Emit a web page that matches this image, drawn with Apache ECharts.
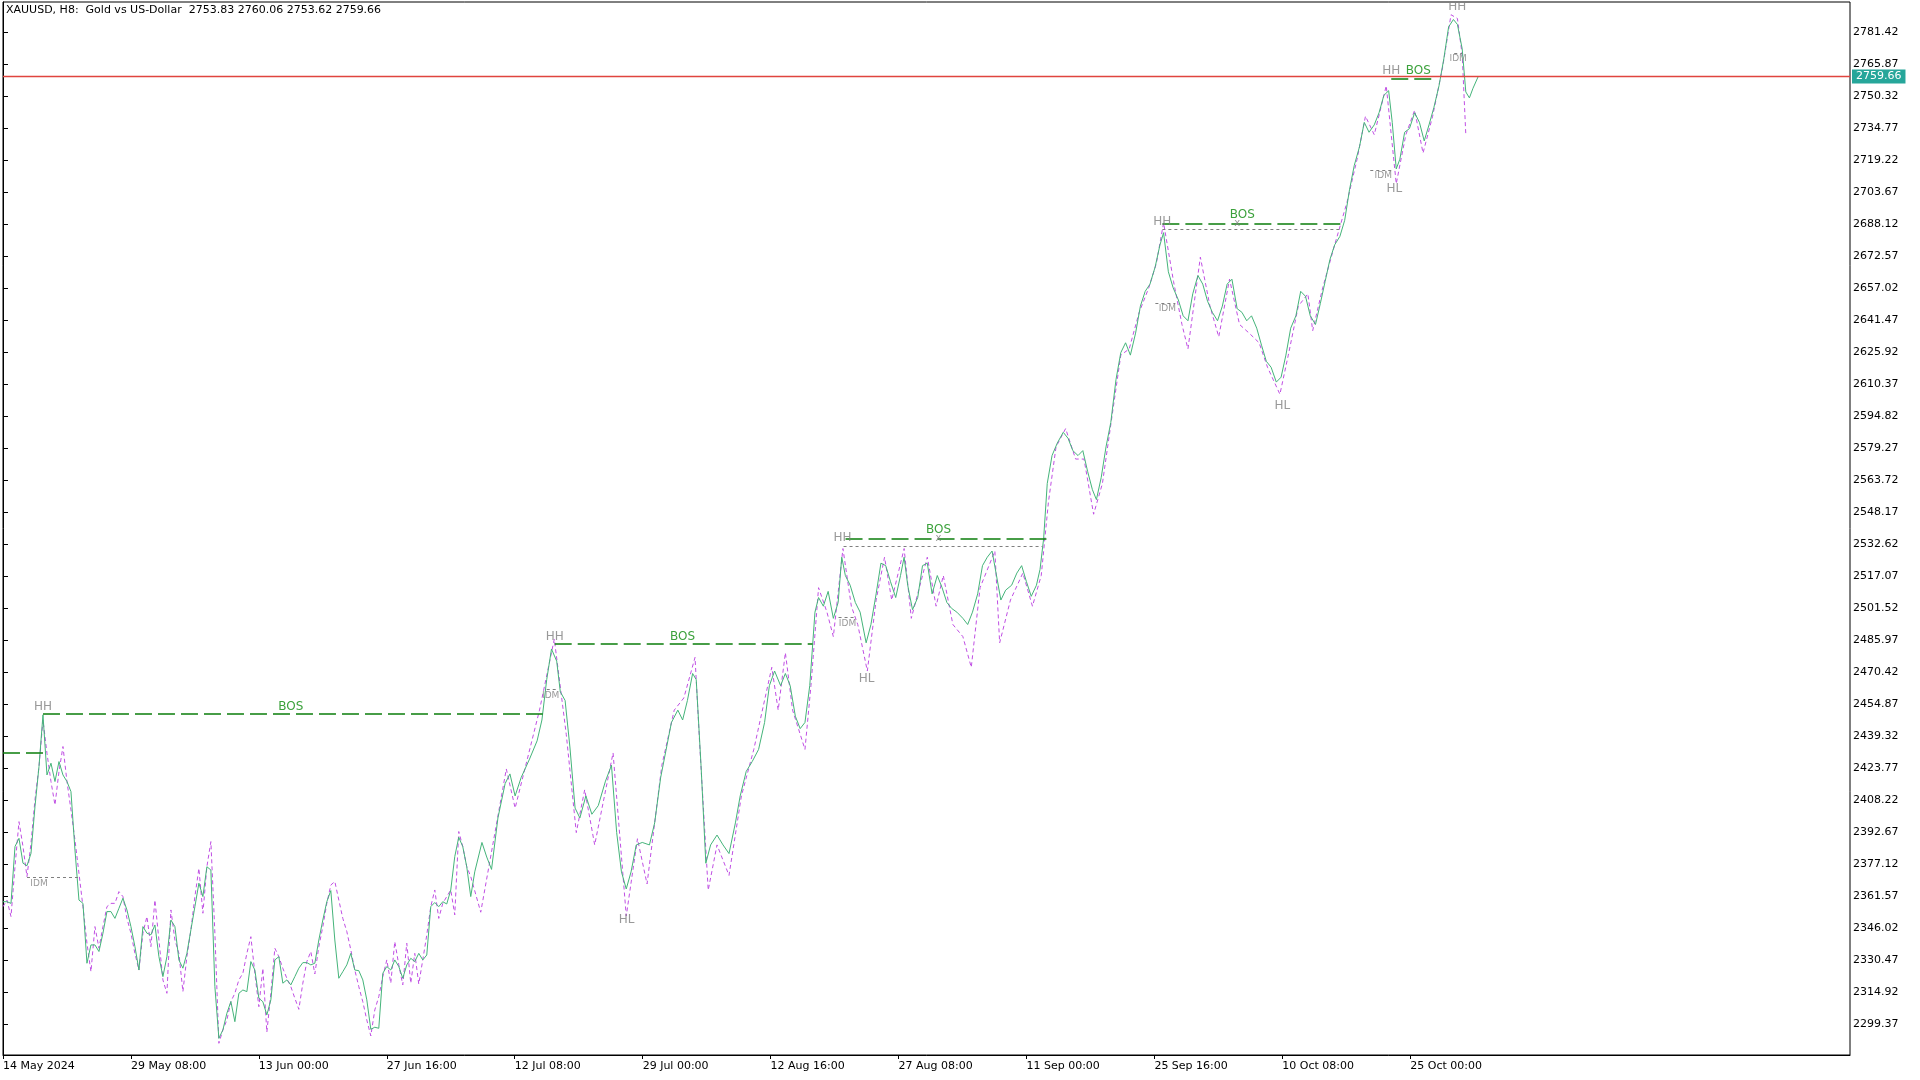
<!DOCTYPE html>
<html><head><meta charset="utf-8">
<script src="https://cdn.jsdelivr.net/npm/echarts@6/dist/echarts.min.js"></script>
<style>html,body{margin:0;padding:0;background:#fff;}#c{width:1920px;height:1080px;}</style>
</head><body><div id="c"></div>
<script>
const titleText = 'XAUUSD, H8:  Gold vs US-Dollar  2753.83 2760.06 2753.62 2759.66';
const lastPrice = 2759.66;
const yTicks = [2299.37,2314.92,2330.47,2346.02,2361.57,2377.12,2392.67,2408.22,2423.77,2439.32,2454.87,2470.42,2485.97,2501.52,2517.07,2532.62,2548.17,2563.72,2579.27,2594.82,2610.37,2625.92,2641.47,2657.02,2672.57,2688.12,2703.67,2719.22,2734.77,2750.32,2765.87,2781.42];
const xTickBars = [0,32,64,96,128,160,192,224,256,288,320,352];
const xTickLabels = ['14 May 2024','29 May 08:00','13 Jun 00:00','27 Jun 16:00','12 Jul 08:00','29 Jul 00:00','12 Aug 16:00','27 Aug 08:00','11 Sep 00:00','25 Sep 16:00','10 Oct 08:00','25 Oct 00:00'];
// [bar, close]
const closeLine = [
[0,2358.7],[1,2358.7],[2,2357.9],[3,2385.5],[4,2389.5],[5,2377.4],[6,2376.2],[7,2382.2],[8,2404.9],[9,2424.3],
[10,2449.5],[11,2420.3],[12,2426.0],[13,2417.1],[14,2426.8],[15,2420.3],[16,2417.1],[17,2412.2],[18,2383.8],[19,2359.5],
[20,2357.9],[21,2328.8],[22,2337.7],[23,2337.7],[24,2334.5],[25,2343.4],[26,2353.9],[27,2353.9],[28,2350.6],[29,2355.5],
[30,2360.4],[31,2354.7],[32,2346.6],[33,2336.9],[34,2325.5],[35,2346.6],[36,2343.4],[37,2342.6],[38,2347.4],[39,2332.0],
[40,2322.3],[41,2332.0],[42,2349.8],[43,2346.6],[44,2330.4],[45,2326.4],[46,2333.6],[47,2345.0],[48,2356.3],[49,2367.7],
[50,2361.2],[51,2375.7],[52,2374.1],[53,2317.4],[54,2292.3],[55,2296.4],[56,2304.5],[57,2310.2],[58,2300.4],[59,2314.2],
[60,2315.8],[61,2315.0],[62,2329.6],[63,2325.5],[64,2311.8],[65,2310.1],[66,2303.7],[67,2311.0],[68,2330.4],[69,2332.0],
[70,2319.1],[71,2320.7],[72,2318.3],[73,2322.3],[74,2326.4],[75,2329.1],[76,2329.1],[77,2328.0],[78,2328.8],[79,2340.1],
[80,2349.8],[81,2358.7],[82,2364.1],[83,2340.1],[84,2321.5],[85,2324.7],[86,2328.0],[87,2333.6],[88,2325.5],[89,2325.2],
[90,2320.7],[91,2311.0],[92,2296.7],[93,2297.7],[94,2297.2],[95,2323.9],[96,2327.2],[97,2325.5],[98,2330.4],[99,2327.2],
[100,2321.5],[101,2328.0],[102,2331.2],[103,2329.6],[104,2333.6],[105,2330.4],[106,2332.8],[107,2356.3],[108,2358.3],[109,2356.3],
[110,2358.7],[111,2357.6],[112,2364.4],[113,2380.6],[114,2390.0],[115,2385.5],[116,2375.7],[117,2361.2],
[118.0,2373.2],[119.8,2387.5],[121.0,2380.4],[122.2,2374.4],[123.8,2399.4],[125.6,2416.1],[126.8,2420.8],[128.1,2410.1],
[129.6,2419.0],[131.7,2428.0],[133.6,2436.9],[134.8,2447.0],[136.0,2466.6],[137.2,2481.5],[138.5,2475.6],[139.4,2460.7],
[140.6,2456.5],[141.8,2433.9],[143.1,2404.2],[144.3,2399.4],[145.8,2410.1],[147.3,2401.2],[148.9,2405.4],[150.7,2417.3],
[152.2,2425.0],[153.5,2392.3],[154.7,2373.2],[155.9,2364.9],[157.1,2373.2],[158.4,2386.3],[159.9,2387.5],[161.7,2386.3],
[163.0,2397.0],[164.5,2419.0],[166.0,2433.9],[167.2,2445.8],[168.8,2451.8],[170.0,2447.0],[171.2,2456.5],[172.5,2469.6],
[173.4,2466.6],[174.6,2425.0],[175.8,2377.4],[177.0,2386.3],[178.6,2391.1],[180.1,2386.3],[181.6,2382.1],[183.2,2397.0],
[184.4,2410.1],[185.9,2422.0],[187.4,2426.8],[189.0,2432.7],[190.5,2445.8],[191.7,2463.7],[193.0,2470.8],[194.5,2463.7],
[195.7,2469.6],[196.9,2463.7],[198.2,2448.8],[199.4,2442.8],[200.6,2445.8],[201.8,2463.7],[203.1,2499.4],[204.0,2506.5],
[205.2,2502.3],[206.4,2509.5],[207.7,2496.4],[208.9,2504.1],[209.8,2526.1],[210.7,2517.2],[211.9,2512.5],[213.2,2504.1],
[214.4,2499.4],[215.9,2484.5],[217.1,2493.4],[218.4,2508.3],[219.6,2523.2],[220.8,2522.0],[222.0,2514.2],[223.3,2506.5],
[224.5,2517.2],[225.4,2526.1],[226.3,2512.5],[227.5,2500.6],[228.8,2506.5],[230.0,2522.0],[231.2,2523.2],[232.4,2508.3],
[233.7,2517.2],[234.9,2511.3],[236.1,2504.1],[237.3,2501.2],[238.6,2499.4],[240.1,2496.4],[241.3,2493.4],[242.5,2499.4],
[243.8,2508.3],[245.0,2522.0],[246.2,2526.1],[247.4,2529.1],[248.4,2518.4],[249.6,2505.3],[250.8,2510.1],[252.3,2512.5],
[253.6,2518.4],[254.8,2522.0],[256.0,2514.2],[257.2,2507.1],[258.5,2512.5],[259.4,2520.2],[260.3,2535.1],[261.2,2561.9],
[262.4,2575.5],[263.7,2581.5],[265.2,2586.8],[266.4,2583.9],[267.6,2577.9],[268.9,2575.5],[270.1,2577.9],[271.3,2567.8],
[272.5,2558.9],[273.5,2554.1],[274.7,2564.8],[275.9,2579.7],[277.1,2591.6],[278.4,2612.4],[279.6,2625.5],[280.8,2630.3],
[282.0,2624.3],[283.3,2635.0],[284.5,2648.1],[285.7,2655.3],[286.9,2658.8],[288.2,2667.2],[289.4,2677.9],[290.3,2683.8],
[291.5,2664.8],[292.7,2657.0],[294.0,2651.1],[295.2,2643.4],[296.4,2641.0],[297.6,2654.1],[298.9,2663.0],[300.1,2658.8],
[301.3,2650.5],[302.5,2645.1],[303.8,2641.0],[305.0,2648.1],[306.2,2658.8],[307.4,2661.2],[308.7,2646.9],[309.9,2645.1],
[311.1,2641.0],[312.3,2643.4],[313.6,2637.4],[314.8,2629.1],[316.0,2621.3],[317.2,2618.4],[318.5,2611.2],[319.7,2613.6],
[320.9,2624.3],[322.1,2637.4],[323.4,2643.4],[324.6,2655.3],[325.8,2652.9],[327.0,2643.4],[328.3,2639.2],[329.5,2649.3],
[330.7,2660.0],[331.9,2670.7],[333.1,2677.9],[334.4,2682.0],[335.6,2689.8],[336.8,2704.6],[338.0,2716.5],[339.3,2725.5],
[340.5,2737.4],[341.7,2732.6],[343.0,2736.2],[344.2,2742.1],[345.4,2750.5],[346.6,2752.8],[347.5,2737.4],[348.5,2714.8],
[349.4,2719.5],[350.6,2732.6],[351.8,2734.4],[353.1,2742.1],[354.3,2737.4],[355.5,2728.4],[356.7,2736.2],[357.9,2744.5],
[359.2,2755.2],[360.4,2768.3],[361.6,2783.8],[362.8,2787.4],[363.8,2785.0],[365.0,2773.1],[365.9,2752.2],[366.8,2749.3],
[367.7,2754.0],[369.0,2759.66]
];
// [bar, value] magenta dashed line
const dashLine = [
[0,2356.3],[1,2359.5],[2,2351.5],[3,2375.7],[4,2397.6],[5,2385.5],[6,2370.9],[7,2387.1],[8,2408.2],[9,2424.3],
[10,2447.0],[11,2430.8],[12,2417.1],[13,2405.7],[14,2421.9],[15,2434.1],[16,2417.1],[17,2403.3],[18,2388.7],[19,2372.5],
[20,2356.3],[21,2338.5],[22,2324.7],[23,2346.6],[24,2336.1],[25,2346.6],[26,2356.3],[27,2357.9],[28,2357.9],[29,2363.6],
[30,2361.2],[31,2350.6],[32,2343.4],[33,2333.6],[34,2325.5],[35,2343.4],[36,2351.5],[37,2336.9],[38,2359.5],[39,2340.1],
[40,2320.7],[41,2314.2],[42,2354.7],[43,2340.1],[44,2333.6],[45,2315.0],[46,2332.0],[47,2345.0],[48,2361.2],[49,2374.9],
[50,2353.1],[51,2375.7],[52,2387.9],[53,2343.4],[54,2289.9],[55,2296.4],[56,2301.2],[57,2310.2],[58,2314.2],[59,2320.7],
[60,2323.9],[61,2333.6],[62,2341.7],[63,2323.9],[64,2307.7],[65,2326.3],[66,2295.3],[67,2314.2],[68,2336.1],[69,2332.0],
[70,2326.3],[71,2321.5],[72,2317.4],[73,2311.8],[74,2306.4],[75,2319.1],[76,2329.6],[77,2334.5],[78,2323.6],[79,2336.9],
[80,2346.6],[81,2357.9],[82,2366.8],[83,2368.5],[84,2359.5],[85,2350.6],[86,2344.2],[87,2335.3],[88,2325.5],[89,2317.4],
[90,2310.1],[91,2301.2],[92,2293.5],[93,2306.1],[94,2312.6],[95,2322.3],[96,2330.4],[97,2319.1],[98,2339.3],[99,2328.0],
[100,2318.3],[101,2338.5],[102,2319.1],[103,2333.6],[104,2318.7],[105,2330.4],[106,2342.5],[107,2356.3],[108,2364.4],[109,2350.6],
[110,2357.9],[111,2361.2],[112,2364.4],[113,2352.3],[114,2392.8],[115,2385.5],[116,2375.7],[117,2370.9],
[119.5,2353.6],[125.9,2423.2],[128.1,2404.2],[134.2,2451.8],[137.9,2486.3],[140.9,2439.9],[143.4,2392.3],[145.5,2413.1],
[148.0,2386.3],[152.6,2431.0],[155.9,2351.8],[158.7,2389.3],[161.1,2367.3],[164.8,2425.0],[167.9,2451.8],[170.3,2457.7],
[173.1,2477.4],[174.3,2433.9],[176.4,2364.3],[178.6,2386.3],[181.6,2371.5],[184.7,2410.1],[187.8,2432.7],[192.3,2472.6],
[193.9,2451.8],[195.7,2479.7],[197.5,2451.8],[200.6,2432.7],[202.1,2463.7],[204.0,2511.3],[206.1,2499.4],[207.7,2487.5],
[210.1,2530.3],[212.2,2502.3],[213.8,2493.4],[216.2,2470.8],[218.4,2505.3],[220.5,2526.1],[222.3,2505.3],[225.4,2530.3],
[227.2,2496.4],[231.2,2526.1],[233.4,2502.3],[235.2,2517.2],[237.6,2493.4],[240.1,2487.5],[242.2,2472.6],[244.4,2511.3],
[248.1,2529.1],[249.3,2484.5],[252.0,2505.3],[255.1,2518.4],[257.5,2502.3],[259.7,2517.2],[261.5,2552.9],[263.4,2579.7],
[265.8,2588.6],[268.3,2573.8],[270.4,2573.8],[272.8,2547.0],[275.0,2561.9],[277.4,2594.6],[279.6,2624.3],[281.7,2627.3],
[284.2,2645.1],[286.6,2657.0],[288.5,2668.9],[290.3,2688.6],[292.8,2660.0],[294.9,2639.2],[296.4,2627.3],[299.5,2671.9],
[301.9,2648.1],[304.1,2633.2],[306.8,2661.2],[309.3,2639.2],[311.7,2635.0],[314.2,2630.3],[316.3,2618.4],[319.4,2605.3],
[321.5,2624.3],[324.0,2648.1],[326.4,2654.1],[327.6,2636.2],[330.1,2657.0],[333.1,2677.9],[336.2,2698.7],[338.7,2719.5],
[340.8,2740.4],[343.0,2731.4],[346.0,2755.2],[348.5,2707.6],[350.9,2731.4],[353.1,2743.3],[355.2,2722.5],[357.6,2740.4],
[360.1,2764.2],[362.2,2789.7],[363.8,2787.9],[365.0,2770.1],[365.9,2731.4]
];
// structure annotations: [fromBar, toBar, price]
const bosLines = [[0,10,2431.3],[10,135,2449.8],[138,202.5,2483.9],[210.75,261,2535.3],[290,335.75,2688.3],[347.25,357.5,2758.5]];
const dotLines = [[6,18.8,2370.5],[136,139,2462.1],[210.25,260,2531.5],[209,213,2497.0],[290,334.5,2685.4],[288.25,293.25,2649.5],[342,347.5,2714.3],[363,365,2771.1]];
const swingLabels = [[10,2453.5,'HH'],[138,2487.5,'HH'],[210,2535.3,'HH'],[290,2689.0,'HH'],[347.25,2762.4,'HH'],[363.75,2793.5,'HH'],
 [156,2350.0,'HL'],[216,2466.9,'HL'],[320,2599.6,'HL'],[348,2705.0,'HL']];
const idmLabels = [[9,2367.6],[137,2458.9],[211.25,2493.6],[291.25,2646.7],[345.25,2711.3],[364,2768.2]];
const bosLabels = [[72,2453.5],[170,2487.5],[234,2539.3],[310,2692.4],[354,2762.4]];
const crossMarks = [[234,2535.0],[308.75,2688.5]];

const FONT = 'DejaVu Sans';
const chart = echarts.init(document.getElementById('c'), null, {renderer:'canvas'});
const seg = (arr, color, type, width) => arr.map(a => ([{coord:[a[0],a[2]], lineStyle:{color, type, width}, label:{show:false}}, {coord:[a[1],a[2]]}]));
chart.setOption({
  animation:false,
  backgroundColor:'#ffffff',
  title:{text:titleText, left:6, top:5, padding:0, textStyle:{fontFamily:FONT, fontSize:11, fontWeight:'normal', color:'#000'}},
  grid:{left:2, top:2, right:70, bottom:25, show:true, borderColor:'#000', borderWidth:1, backgroundColor:'#fff'},
  xAxis:{type:'value', min:0, max:462, splitLine:{show:false},
    axisLine:{show:true, lineStyle:{color:'#000'}},
    axisTick:{show:true, length:4, inside:false, lineStyle:{color:'#000'}, customValues:xTickBars},
    axisLabel:{customValues:xTickBars, align:'left', margin:6, fontFamily:FONT, fontSize:11, color:'#000',
      formatter:v => { const k = xTickBars.indexOf(Math.round(v)); return k>=0 ? xTickLabels[k] : ''; }}},
  yAxis:{type:'value', position:'right', min:2284.21, max:2795.90, scale:true, splitLine:{show:false},
    axisLine:{show:true, lineStyle:{color:'#000'}},
    axisTick:{show:true, length:5, lineStyle:{color:'#000'}, customValues:yTicks},
    axisLabel:{customValues:yTicks, margin:3, fontFamily:FONT, fontSize:11, color:'#000', formatter:v=>v.toFixed(2)}},
  series:[
    {type:'line', data:dashLine, showSymbol:false, symbol:'none', z:3,
     lineStyle:{color:'#c04fe4', width:1, type:[4,3]}},
    {type:'line', data:closeLine, showSymbol:false, symbol:'none', z:4,
     lineStyle:{color:'#45b47a', width:1},
     markLine:{silent:true, symbol:'none', animation:false,
       data:[
         {yAxis:lastPrice, lineStyle:{color:'#e0443e', width:1.3, type:'solid'},
          label:{show:true, position:'end', distance:2, formatter:lastPrice.toFixed(2), color:'#fff', backgroundColor:'#26a69a', padding:[2,4,1,4], fontFamily:FONT, fontSize:11}},
         ...seg(bosLines, '#0b7d0b', [17,6], 1.6),
         ...seg(dotLines, '#7f7f7f', [3,3], 1)
       ]}},
    {type:'scatter', data:swingLabels.map(d=>[d[0],d[1],d[2]]), symbolSize:0, z:6,
     label:{show:true, position:'inside', formatter:p=>p.data[2], color:'#7f7f7f', fontFamily:FONT, fontSize:12}},
    {type:'scatter', data:idmLabels, symbolSize:0, z:6,
     label:{show:true, position:'inside', formatter:'IDM', color:'#7f7f7f', fontFamily:FONT, fontSize:9}},
    {type:'scatter', data:bosLabels, symbolSize:0, z:6,
     label:{show:true, position:'inside', formatter:'BOS', color:'#0a8a0a', fontFamily:FONT, fontSize:12}},
    {type:'scatter', data:crossMarks, symbolSize:0, z:6,
     label:{show:true, position:'inside', formatter:'x', color:'#7f7f7f', fontFamily:FONT, fontSize:10}}
  ]
});
</script></body></html>
